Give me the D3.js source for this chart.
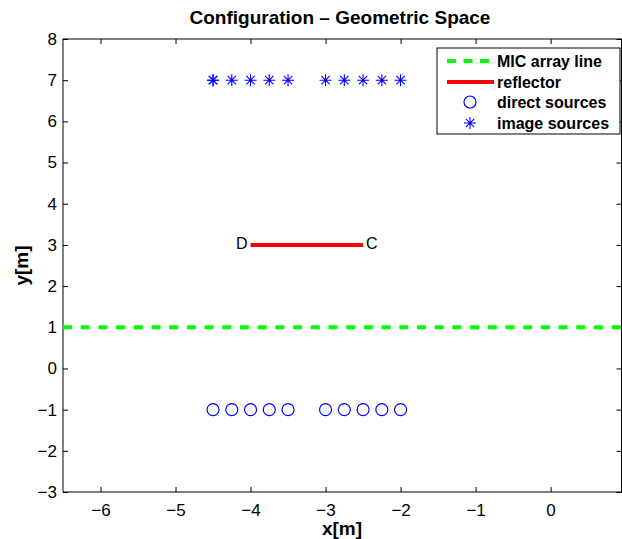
<!DOCTYPE html>
<html lang="en">
<head>
    <meta charset="UTF-8">
    <title>Configuration - Geometric Space</title>
    <script src="https://d3js.org/d3.v7.min.js"></script>
    <style>
        body { margin: 0; background: #fff; }
        svg { display: block; font-family: "Liberation Sans", Arial, sans-serif; }
        .tick text { font-size: 17px; fill: #000; }
    </style>
</head>
<body>
    <svg width="622" height="539"></svg>

    <script>
        // data
        const xTicks = [-6, -5, -4, -3, -2, -1, 0];
        const yTicks = [-3, -2, -1, 0, 1, 2, 3, 4, 5, 6, 7, 8];
        const sourceX = [-4.5, -4.25, -4.0, -3.75, -3.5, -3.0, -2.75, -2.5, -2.25, -2.0];
        const directY = -1;
        const imageY = 7;
        // first image source is drawn twice in the original (darker)
        const imageX = [-4.5, ...sourceX];
        const micLineY = 1;
        const reflector = [{ x: -4.0, y: 3, label: "D" }, { x: -2.5, y: 3, label: "C" }];

        const svg = d3.select("svg");
        const m = { left: 63, right: 621.5, top: 39, bottom: 492 };

        const x = d3.scaleLinear().domain([-6.5, 0.945]).range([m.left, m.right]);
        const y = d3.scaleLinear().domain([-3, 8]).range([m.bottom, m.top]);

        const fmt = d => d < 0 ? "\u2212" + Math.abs(d) : String(d);

        // axes, ticks pointing inward on all four sides
        svg.append("g")
            .attr("transform", `translate(0,${m.bottom})`)
            .call(d3.axisBottom(x).tickValues(xTicks).tickSize(-5).tickPadding(12).tickFormat(fmt))
            .call(g => g.select(".domain").remove());
        svg.append("g")
            .attr("transform", `translate(0,${m.top})`)
            .call(d3.axisTop(x).tickValues(xTicks).tickSize(-5).tickFormat(""))
            .call(g => g.select(".domain").remove());
        svg.append("g")
            .attr("transform", `translate(${m.left},0)`)
            .call(d3.axisLeft(y).tickValues(yTicks).tickSize(-5).tickPadding(6).tickFormat(fmt))
            .call(g => g.select(".domain").remove());
        svg.append("g")
            .attr("transform", `translate(${m.right},0)`)
            .call(d3.axisRight(y).tickValues(yTicks).tickSize(-5).tickFormat(""))
            .call(g => g.select(".domain").remove());

        svg.append("rect")
            .attr("x", m.left).attr("y", m.top)
            .attr("width", m.right - m.left).attr("height", m.bottom - m.top)
            .attr("fill", "none").attr("stroke", "#000").attr("stroke-width", 1);

        const plot = svg.append("g");

        // MIC array line
        plot.append("line")
            .attr("x1", m.left).attr("x2", m.right)
            .attr("y1", y(micLineY)).attr("y2", y(micLineY))
            .attr("stroke", "#00ff00").attr("stroke-width", 4)
            .attr("stroke-dasharray", "9,8.7");

        // reflector
        plot.append("line")
            .attr("x1", x(reflector[0].x)).attr("x2", x(reflector[1].x))
            .attr("y1", y(reflector[0].y)).attr("y2", y(reflector[1].y))
            .attr("stroke", "#ff0000").attr("stroke-width", 4);

        plot.selectAll(".rlabel")
            .data(reflector)
            .join("text")
            .attr("x", (d, i) => x(d.x) + (i === 0 ? -3 : 3))
            .attr("y", d => y(d.y) + 4)
            .attr("text-anchor", (d, i) => i === 0 ? "end" : "start")
            .attr("font-size", 16)
            .text(d => d.label);

        // direct sources
        plot.selectAll(".direct")
            .data(sourceX)
            .join("circle")
            .attr("cx", d => x(d)).attr("cy", y(directY)).attr("r", 6)
            .attr("fill", "none").attr("stroke", "#0000ff").attr("stroke-width", 1.2);

        // image sources (asterisks)
        function star(g, cx, cy, s) {
            const a = s * 0.7;
            g.append("path")
                .attr("d", `M${cx},${cy - s}L${cx},${cy + s}` +
                    `M${cx - s},${cy}L${cx + s},${cy}` +
                    `M${cx - a},${cy - a}L${cx + a},${cy + a}` +
                    `M${cx - a},${cy + a}L${cx + a},${cy - a}`)
                .attr("stroke", "#0000ff").attr("stroke-width", 1.1).attr("fill", "none");
        }
        const stars = plot.append("g");
        imageX.forEach(d => star(stars, x(d), y(imageY), 6));

        // legend
        const lg = svg.append("g").attr("transform", "translate(437,48)");
        lg.append("rect").attr("width", 183).attr("height", 86)
            .attr("fill", "#fff").attr("stroke", "#000").attr("stroke-width", 1);
        const rows = [13, 34, 54, 75];
        const labels = ["MIC array line", "reflector", "direct sources", "image sources"];
        lg.selectAll(".lt")
            .data(labels)
            .join("text")
            .attr("x", 60).attr("y", (d, i) => rows[i] + 6)
            .attr("font-size", 16).attr("font-weight", "bold")
            .text(d => d);
        lg.append("line").attr("x1", 10).attr("x2", 57).attr("y1", rows[0]).attr("y2", rows[0])
            .attr("stroke", "#00ff00").attr("stroke-width", 4).attr("stroke-dasharray", "9,7.5");
        lg.append("line").attr("x1", 10).attr("x2", 57).attr("y1", rows[1]).attr("y2", rows[1])
            .attr("stroke", "#ff0000").attr("stroke-width", 4);
        lg.append("circle").attr("cx", 33).attr("cy", rows[2]).attr("r", 6)
            .attr("fill", "none").attr("stroke", "#0000ff").attr("stroke-width", 1.2);
        star(lg, 33, rows[3], 6);

        // titles
        svg.append("text")
            .attr("x", 340).attr("y", 24)
            .attr("text-anchor", "middle").attr("font-size", 19).attr("font-weight", "bold")
            .text("Configuration \u2013 Geometric Space");
        svg.append("text")
            .attr("x", 342).attr("y", 535)
            .attr("text-anchor", "middle").attr("font-size", 19).attr("font-weight", "bold")
            .text("x[m]");
        svg.append("text")
            .attr("transform", `translate(28,${(m.top + m.bottom) / 2}) rotate(-90)`)
            .attr("text-anchor", "middle").attr("font-size", 19).attr("font-weight", "bold")
            .text("y[m]");
    </script>
</body>
</html>
